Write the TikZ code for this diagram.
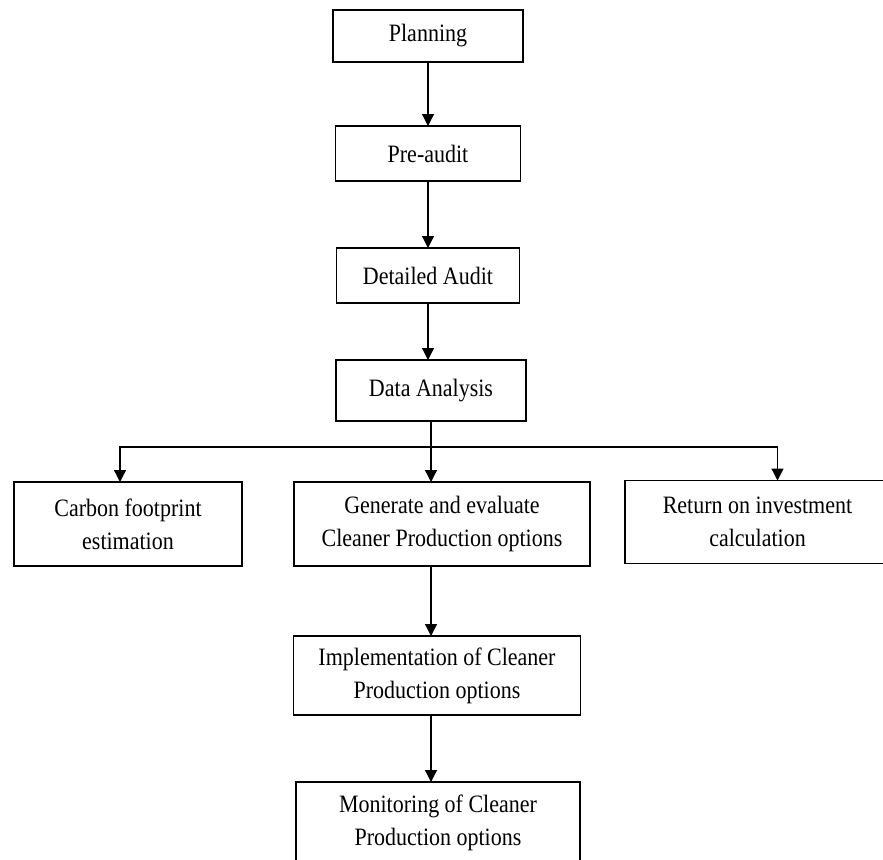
\documentclass[tikz,border=0pt]{standalone}
\usepackage{fontspec}
\setmainfont{Liberation Serif}[FakeStretch=0.88]
\usetikzlibrary{positioning, arrows.meta}

\begin{document}
\begin{tikzpicture}[
  x=1pt, y=1pt,
  node distance=64pt and 52pt,
  box/.style={draw, line width=1.3pt, inner sep=2pt, outer sep=0pt, align=center,
              font=\fontsize{25}{33}\selectfont},
  arr/.style={-{Triangle[length=12pt, width=12pt]}, line width=1.3pt}
]
\useasboundingbox (0,0) rectangle (883,-859);
\clip (0,0) rectangle (883,-859);
\node[box, minimum width=190pt, minimum height=52pt] (plan) at (428,-36) {Planning};
\node[box, minimum width=185pt, minimum height=55pt, below=of plan] (pre) {Pre-audit};
\node[box, minimum width=183pt, minimum height=55pt, below=67pt of pre] (det) {Detailed Audit};
\node[box, minimum width=190pt, minimum height=61pt, below=57pt of det, xshift=3pt] (dat) {Data Analysis};
\node[box, minimum width=296pt, minimum height=84pt, below=61pt of dat, xshift=11pt] (gen)
  {Generate and evaluate\\Cleaner Production options};
\node[box, minimum width=228pt, minimum height=84pt, left=of gen] (carb)
  {Carbon footprint\\estimation};
\node[box, minimum width=265pt, minimum height=83pt, right=35pt of gen, yshift=2pt] (roi)
  {Return on investment\\calculation};
\node[box, minimum width=287pt, minimum height=79pt, below=70pt of gen, xshift=-5pt] (impl)
  {Implementation of Cleaner\\Production options};
\node[box, minimum width=284pt, minimum height=82pt, below=67pt of impl, xshift=1pt] (mon)
  {Monitoring of Cleaner\\Production options};
\coordinate[below=26pt of dat] (split);
\draw[arr] (plan) -- (pre);
\draw[arr] (pre) -- (det);
\draw[arr] (det.south) -- (det.south |- dat.north);
\draw[arr] (dat.south) -- (dat.south |- gen.north);
\draw[arr] (split) -| ([xshift=-8pt]carb.north);
\draw[arr] (split) -| ([xshift=20pt]roi.north);
\draw[arr] (dat.south |- gen.south) -- (dat.south |- impl.north);
\draw[arr] (dat.south |- impl.south) -- (dat.south |- mon.north);
\end{tikzpicture}
\end{document}
